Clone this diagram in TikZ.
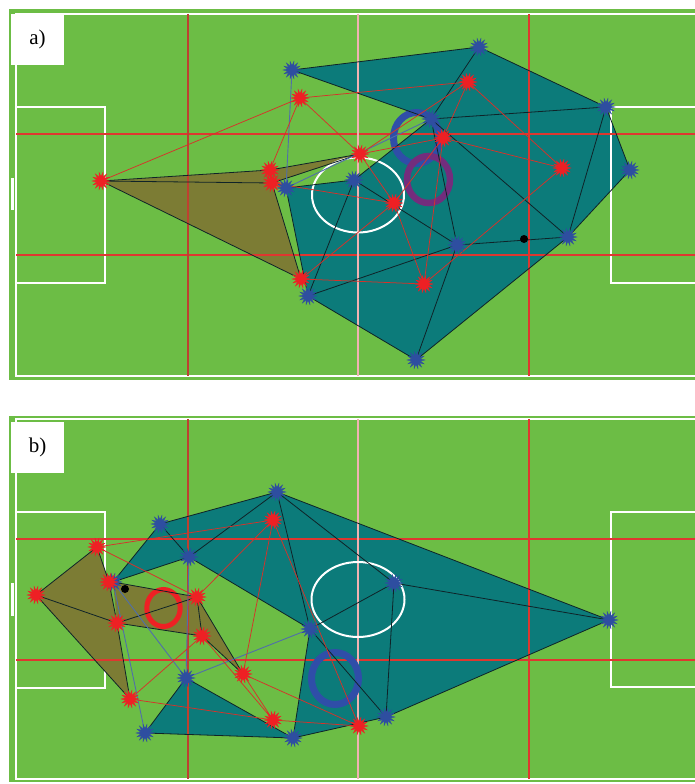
\documentclass[tikz,border=0pt]{standalone}
\usepackage{fontspec}
\setmainfont{Liberation Serif}
\usetikzlibrary{shapes.geometric}
\definecolor{pitch}{RGB}{108,189,69}
\definecolor{tealc}{RGB}{12,123,122}
\definecolor{olivec}{RGB}{124,124,52}
\definecolor{edgek}{RGB}{15,35,40}
\definecolor{edger}{RGB}{215,50,42}
\definecolor{gridr}{RGB}{222,55,48}
\definecolor{gridd}{RGB}{190,65,48}
\definecolor{markr}{RGB}{238,32,36}
\definecolor{markb}{RGB}{46,78,160}
\definecolor{edgeb}{RGB}{80,110,170}
\definecolor{ringb}{RGB}{47,78,168}
\definecolor{ringp}{RGB}{115,45,125}
\definecolor{cline}{RGB}{242,178,178}
\tikzset{
  fieldline/.style={white, line width=2pt},
  gridline/.style={gridr, line width=1.2pt},
  gridlinedark/.style={gridd, line width=1.2pt},
  centreline/.style={cline, line width=2.4pt},
  blk/.style={edgek, line width=0.8pt},
  redge/.style={edger, line width=0.75pt},
  bedge/.style={edgeb, line width=0.9pt},
  rmark/.style={star, star points=14, star point ratio=0.5, minimum size=9pt, inner sep=0pt, fill=markr, draw=markr, line width=0.3pt},
  bmark/.style={star, star points=14, star point ratio=0.5, minimum size=9pt, inner sep=0pt, fill=markb, draw=markb, line width=0.3pt},
  tealfill/.style={fill=tealc},
  olivefill/.style={fill=olivec},
  ring/.style={line width=#1},
  labelbox/.style={fill=white, inner sep=0pt, minimum width=53pt, minimum height=51pt, font=\fontsize{21}{24}\selectfont},
  blackdot/.style={circle, fill=black, inner sep=0pt, minimum size=8pt}
}
\begin{document}
\begin{tikzpicture}[x=1pt,y=-1pt]
\useasboundingbox (0,0) rectangle (695,784);
\fill[white] (0,0) rectangle (695,784);

% ================= panel a =================
\fill[pitch] (9,9) rectangle (695,380);
\coordinate (B1) at (292,70);
\coordinate (B2) at (479,47);
\coordinate (B3) at (606,107);
\coordinate (B4) at (630,170);
\coordinate (B5) at (568,237);
\coordinate (B6) at (416,360);
\coordinate (B7) at (308,296);
\coordinate (B8) at (286,188);
\coordinate (B9) at (354,180);
\coordinate (B10) at (431,119);
\coordinate (B11) at (457,245);
\coordinate (R1) at (101,181);
\coordinate (R2) at (270,170);
\coordinate (R3) at (272,183);
\coordinate (R4) at (301,279);
\coordinate (R5) at (360,154);
\coordinate (R6) at (300,98);
\coordinate (R7) at (468,82);
\coordinate (R8) at (443,138);
\coordinate (R9) at (562,168);
\coordinate (R10) at (394,203);
\coordinate (R11) at (424,284);

\fill[tealfill] (B1)--(B2)--(B3)--(B4)--(B5)--(B6)--(B7)--(B8)--(B9)--(B10)--cycle;
\fill[olivefill] (R1)--(R2)--(R5)--(R3)--(R4)--cycle;

% field markings a
\draw[fieldline] (695,14) -- (16,14) -- (16,376) -- (695,376);
\draw[fieldline] (16,107) -- (105,107) -- (105,283) -- (16,283);
\draw[fieldline] (695,107) -- (611,107) -- (611,283) -- (695,283);
\draw[white, line width=2.5pt] (12.5,178) -- (12.5,210);
\draw[gridline] (16,134) -- (695,134);
\draw[gridline] (16,255) -- (695,255);
\draw[gridlinedark] (188,14) -- (188,376);
\draw[gridline] (529,14) -- (529,376);
\draw[centreline] (358,14) -- (358,376);
\draw[white, line width=2pt] (358,195) ellipse [x radius=46, y radius=37.5];

% rings a
\draw[ringb, ring=7pt] (416.5,138) ellipse [x radius=23, y radius=25.5];
\draw[ringp, ring=6.5pt] (428.5,179.5) ellipse [x radius=21.5, y radius=23.5];

% edges a
\draw[blk] (B1)--(B2)--(B3)--(B4)--(B5)--(B6)--(B7)--(B8)--(B9)--(B10)--cycle;
\draw[blk] (B2)--(B10) (B10)--(B3) (B10)--(B11) (B10)--(B5) (B3)--(B5)
  (B11)--(B5) (B11)--(B6) (B9)--(B11) (B7)--(B11) (B7)--(B9);
\draw[blk] (R1)--(R2)--(R5)--(R3)--(R4)--cycle;
\draw[blk] (R1)--(R3) (R2)--(R3);
\draw[bedge] (B1)--(B8) (B8)--(B10);
\draw[redge] (R1)--(R6) (R6)--(R7) (R6)--(R2) (R6)--(R5) (R7)--(R5) (R7)--(R8)
  (R7)--(R9) (R5)--(R8) (R5)--(R10) (R8)--(R9) (R8)--(R10) (R8)--(R11)
  (R9)--(R11) (R10)--(R11) (R3)--(R10) (R4)--(R10) (R4)--(R11);
\node[blackdot] (dota) at (524,239) {};

\foreach \p in {B1,B2,B3,B4,B5,B6,B7,B8,B9,B10,B11}
  \node[bmark] (m\p) at (\p) {};
\foreach \p in {R1,R2,R3,R4,R5,R6,R7,R8,R9,R10,R11}
  \node[rmark] (m\p) at (\p) {};

\node[labelbox] (labela) at (37.5,39.5) {a)};

% ================= panel b =================
\fill[pitch] (9,416) rectangle (695,782);
\coordinate (b1) at (277,492);
\coordinate (b2) at (160,524);
\coordinate (b3) at (189,557);
\coordinate (b4) at (113,582);
\coordinate (b5) at (394,583);
\coordinate (b6) at (310,629);
\coordinate (b7) at (186,678);
\coordinate (b8) at (145,733);
\coordinate (b9) at (293,738);
\coordinate (b10) at (386,717);
\coordinate (b11) at (609,620);
\coordinate (r1) at (36,595);
\coordinate (r2) at (97,547);
\coordinate (r3) at (109,582);
\coordinate (r4) at (117,623);
\coordinate (r5) at (197,597);
\coordinate (r6) at (202,636);
\coordinate (r7) at (243,674);
\coordinate (r8) at (130,699);
\coordinate (r9) at (273,720);
\coordinate (r10) at (273,520);
\coordinate (r11) at (359,726);

\fill[tealfill] (b4)--(b2)--(b1)--(b11)--(b10)--(b9)--(b6)--(b3)--cycle;
\fill[tealfill] (b7)--(b8)--(b9)--cycle;

% field markings b
\draw[fieldline] (695,419) -- (16,419) -- (16,779) -- (695,779);
\draw[fieldline] (16,512) -- (105,512) -- (105,688) -- (16,688);
\draw[fieldline] (695,512) -- (611,512) -- (611,687) -- (695,687);
\draw[white, line width=2.5pt] (12.5,583) -- (12.5,616);

\fill[olivefill] (r1)--(r2)--(r3)--(r4)--(r8)--cycle;
\fill[olivefill] (b4)--(r5)--(r7)--(r6)--(r4)--cycle;

\draw[gridline] (16,539) -- (695,539);
\draw[gridline] (16,660) -- (695,660);
\draw[gridlinedark] (188,419) -- (188,779);
\draw[gridline] (529,419) -- (529,779);
\draw[centreline] (358,419) -- (358,779);
\draw[white, line width=2pt] (358,599.5) ellipse [x radius=46.5, y radius=37.5];

% rings b
\draw[markr, ring=5pt] (163.5,608) ellipse [x radius=16.7, y radius=18.5];
\draw[ringb, ring=7pt] (335,678.5) ellipse [x radius=23.5, y radius=26];

% edges b
\draw[blk] (b4)--(b2)--(b1)--(b11)--(b10)--(b9)--(b6)--(b3)--cycle;
\draw[blk] (b2)--(b3) (b3)--(b1) (b1)--(b6) (b1)--(b5) (b6)--(b5)
  (b5)--(b10) (b5)--(b11) (b6)--(b10);
\draw[blk] (b7)--(b8)--(b9)--cycle;
\draw[blk] (r1)--(r2)--(r3)--(r4)--(r8)--cycle;
\draw[blk] (r1)--(r4);
\draw[blk] (b4)--(r5)--(r7)--(r6)--(r4);
\draw[blk] (r4)--(r5) (r5)--(r6);
\draw[bedge] (b4)--(b8) (b4)--(b7) (b3)--(b7) (b7)--(b6);
\draw[redge] (r2)--(r10) (r2)--(r5) (r10)--(r5) (r10)--(r7) (r10)--(r11)
  (r6)--(r8) (r6)--(r9) (r7)--(r9) (r7)--(r11) (r8)--(r9) (r9)--(r11);
\node[blackdot] (dotb) at (125,589) {};

\foreach \p in {b1,b2,b3,b4,b5,b6,b7,b8,b9,b10,b11}
  \node[bmark] (m\p) at (\p) {};
\foreach \p in {r1,r2,r3,r4,r5,r6,r7,r8,r9,r10,r11}
  \node[rmark] (m\p) at (\p) {};

\node[labelbox] (labelb) at (37.5,447.5) {b)};
\end{tikzpicture}
\end{document}
